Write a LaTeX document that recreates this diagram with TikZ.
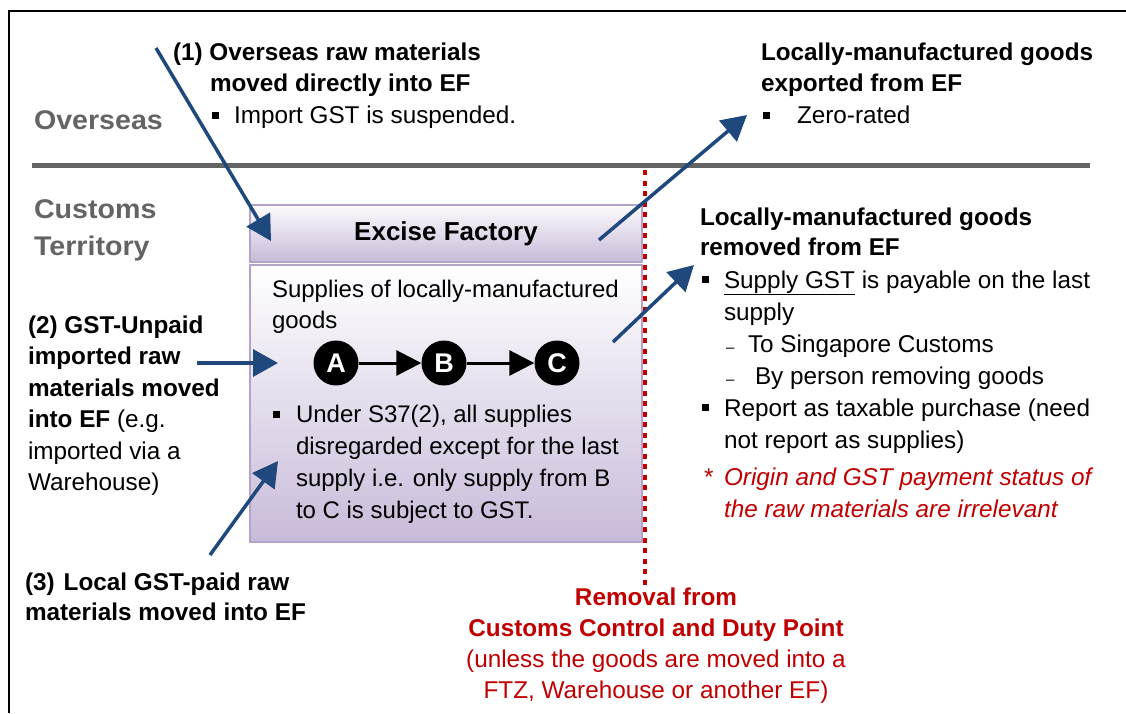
\documentclass[tikz,border=0pt]{standalone}
\usepackage{fontspec}
\setmainfont{Liberation Sans}
\newfontfamily\greyfont[FakeStretch=1.06]{Liberation Sans}
\usetikzlibrary{arrows.meta}
\definecolor{arrowblue}{RGB}{31,73,125}
\definecolor{labelgrey}{RGB}{100,100,100}
\definecolor{rulegrey}{RGB}{100,100,100}
\definecolor{efborder}{RGB}{180,162,201}
\definecolor{eflight}{RGB}{252,251,253}
\definecolor{efdark}{RGB}{200,187,217}
\definecolor{darkred}{RGB}{192,0,0}
\newcommand\bul{\rule[0.19em]{0.29em}{0.29em}}
\newcommand\smalldash{{\fontsize{15}{15}\selectfont –}}
\tikzset{
  txt/.style={inner sep=0pt, outer sep=0pt, anchor=base west, align=left,
    font=\fontsize{24.3}{31.7}\selectfont},
  greylabel/.style={inner sep=0pt, outer sep=0pt, anchor=base west, align=left,
    text=labelgrey, font=\greyfont\bfseries\fontsize{27}{37.5}\selectfont},
  bluearrow/.style={draw=arrowblue, line width=3.5pt,
    -{Triangle[length=25pt,width=27pt]}},
  flowarrow/.style={draw=black, line width=3pt,
    -{Triangle[length=25pt,width=25pt]}},
  efbox/.style={draw=efborder, line width=1.8pt, top color=eflight,
    bottom color=efdark, inner sep=0pt, outer sep=0pt, anchor=north west},
  letter/.style={circle, fill=black, minimum size=45pt, inner sep=0pt,
    text=white, font=\bfseries\fontsize{27}{27}\selectfont},
}
\begin{document}
\begin{tikzpicture}[x=1pt,y=-1pt]
\useasboundingbox (0,0) rectangle (1126,713);
% frame
\coordinate (fbl) at (9,713);
\coordinate (ftl) at (9,11);
\coordinate (ftr) at (1126,11);
\draw[line width=2pt] (fbl) -- (ftl) -- (ftr);
% region labels and separator (nodes placed at the baseline of their last line)
\node[greylabel] (overseas) at (34,129) {Overseas};
\node[greylabel] (customs) at (34,255.5) {Customs\\Territory};
\coordinate (rulel) at (32,165);
\coordinate (ruler) at (1090,165);
\draw[rulegrey, line width=5pt] (rulel) -- (ruler);
% excise factory box
\node[efbox, minimum width=392pt, minimum height=57pt,
  font=\bfseries\fontsize{26}{26}\selectfont] (efhead) at (250,205) {Excise Factory};
\node[efbox, minimum width=392pt, minimum height=277pt, top color=white] (efbody) at (250,265) {};
\node[txt, font=\fontsize{24}{31}\selectfont] (supplies) at (272,328) {Supplies of locally-manufactured\\goods};
\node[letter] (A) at (336,363) {A};
\node[letter] (B) at (444,363) {B};
\node[letter] (C) at (557,363) {C};
\draw[flowarrow] (A) -- (B);
\draw[flowarrow] (B) -- (C);
\node[txt, font=\fontsize{24}{31.7}\selectfont] (s37) at (273,518)
  {\makebox[23pt][l]{\bul}Under S37(2), all supplies\\
   \hspace*{23pt}disregarded except for the last\\
   \hspace*{23pt}supply i.e. only supply from B\\
   \hspace*{23pt}to C is subject to GST.};
% red dotted line
\coordinate (dtop) at (645,170);
\coordinate (dbot) at (645,585);
\draw[darkred, line width=4pt, dash pattern=on 5pt off 5.5pt] (dtop) -- (dbot);
% texts
\node[txt] (t1) at (173,123.4)
  {\textbf{(1) Overseas raw materials}\\
   \hspace*{37pt}\textbf{moved directly into EF}\\
   \hspace*{39pt}\makebox[22pt][l]{\bul}Import GST is suspended.};
\node[txt] (texp) at (761,123.4)
  {\textbf{Locally-manufactured goods}\\
   \textbf{exported from EF}\\
   \hspace*{2pt}\makebox[34pt][l]{\bul}Zero-rated};
\node[txt, font=\fontsize{24.3}{30}\selectfont] (trem) at (700,255)
  {\textbf{Locally-manufactured goods}\\\textbf{removed from EF}};
\node[txt, font=\fontsize{24.3}{32}\selectfont] (tremlist) at (702,448)
  {\makebox[22pt][l]{\bul}\underline{Supply GST} is payable on the last\\
   \hspace*{22pt}supply\\
   \hspace*{24pt}\makebox[22pt][l]{\smalldash}To Singapore Customs\\
   \hspace*{24pt}\makebox[29pt][l]{\smalldash}By person removing goods\\
   \makebox[22pt][l]{\bul}Report as taxable purchase (need\\
   \hspace*{22pt}not report as supplies)};
\node[txt, text=darkred, font=\fontsize{24.3}{32}\selectfont] (tnote) at (704,517)
  {\makebox[20pt][l]{*}\textit{Origin and GST payment status of}\\
   \hspace*{20pt}\textit{the raw materials are irrelevant}};
\node[txt, font=\fontsize{24.3}{31.5}\selectfont] (t2) at (28,490.5)
  {\textbf{(2) GST-Unpaid}\\\textbf{imported raw}\\\textbf{materials moved}\\
   \textbf{into EF} (e.g.\\imported via a\\Warehouse)};
\node[txt, font=\fontsize{24.3}{30}\selectfont] (t3) at (25,620)
  {\textbf{(3)\hspace{9pt}Local GST-paid raw}\\\textbf{materials moved into EF}};
\node[txt, anchor=base, align=center, text=darkred, font=\fontsize{24.3}{31}\selectfont]
  (tremoval) at (656,698)
  {\textbf{Removal from}\\\textbf{Customs Control and Duty Point}\\
   (unless the goods are moved into a\\FTZ, Warehouse or another EF)};
% blue arrows
\coordinate (a1s) at (156,48);
\coordinate (a1e) at (271,241);
\coordinate (a2s) at (197,363);
\coordinate (a2e) at (278,363);
\coordinate (a3s) at (210,555);
\coordinate (a3e) at (278,461);
\coordinate (a4s) at (599,240);
\coordinate (a4e) at (747,115);
\coordinate (a5s) at (613,342);
\coordinate (a5e) at (694,265);
\draw[bluearrow] (a1s) -- (a1e);
\draw[bluearrow] (a2s) -- (a2e);
\draw[bluearrow] (a3s) -- (a3e);
\draw[bluearrow] (a4s) -- (a4e);
\draw[bluearrow] (a5s) -- (a5e);
\end{tikzpicture}
\end{document}
